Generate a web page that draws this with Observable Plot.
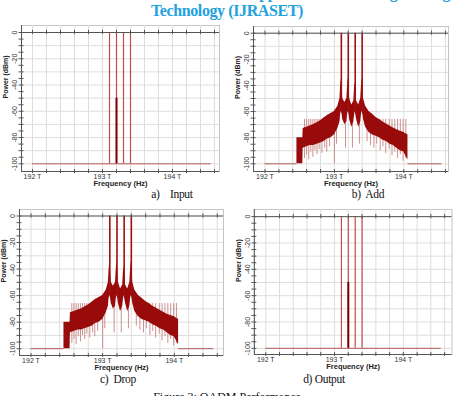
<!DOCTYPE html>
<html><head><meta charset="utf-8">
<script src="https://cdn.jsdelivr.net/npm/d3@7"></script>
<script src="https://cdn.jsdelivr.net/npm/@observablehq/plot@0.6"></script>
<style>
body{margin:0;background:#fff;}
#fig{position:relative;width:454px;height:396px;overflow:hidden;background:#fff;}
.p{position:absolute;}
.cap{position:absolute;font-family:"Liberation Serif",serif;font-size:11.5px;color:#111;white-space:nowrap;line-height:14px;transform:translate(-50%,-50%);letter-spacing:-0.3px;}
.title{position:absolute;left:0;width:454px;text-align:center;font-family:"Liberation Serif",serif;font-weight:bold;color:#22a2dc;font-size:16px;line-height:18px;white-space:nowrap;letter-spacing:-0.4px;}
.fcap{position:absolute;left:0;width:454px;text-align:center;font-family:"Liberation Serif",serif;font-size:12px;line-height:14px;color:#111;white-space:nowrap;}
</style></head><body><div id="fig"></div>
<script>
// ---- data ----
const channelFreqs = [193.1, 193.2, 193.3, 193.4];   // THz
const channelPowers = [0, 0, 0, 0];                  // dBm
const residualFreqs = [193.2];
const residualPowers = [-50];
const floorDb = -100;
const spanStart = 192, spanEnd = 194.55;
const noiseStart = 192.46, noiseEnd = 194.06;

const noiseFreqs = [192.46,192.545,192.55,192.60,192.65,192.70,192.75,192.80,192.85,192.90,192.95,193.00,193.05,193.08,193.09,193.10,193.11,193.12,193.15,193.18,193.19,193.20,193.21,193.22,193.25,193.28,193.29,193.30,193.31,193.32,193.35,193.38,193.39,193.40,193.41,193.42,193.45,193.50,193.55,193.60,193.65,193.70,193.75,193.80,193.85,193.90,193.95,194.00,194.06];
const noiseHigh  = [-80,-80,-73,-72,-71,-70,-68.5,-67,-65,-63,-61.5,-60,-56,-50,-40,-35,-40,-50,-53,-50,-40,-34,-40,-50,-55,-52,-42,-38,-42,-52,-55,-50,-40,-34,-40,-50,-56,-60,-62,-64.5,-66,-68,-69.5,-71,-72.5,-74,-75,-76,-78];
const noiseLow   = [-100,-100,-88,-87,-86,-86,-85,-84,-83,-81,-80,-78,-73,-68,-62,-60,-62,-66,-70,-68,-62,-60,-62,-66,-72,-68,-63,-60,-63,-66,-72,-68,-62,-60,-62,-66,-72,-76,-78,-79,-80,-82,-83,-85,-86,-88,-90,-91,-97];

const dipFreqs  = [192.57,192.60,192.63,192.66,192.69,192.72,192.75,192.78,192.82,192.86,192.89,192.93,193.00,193.03,193.16,193.26,193.36,193.47,193.52,193.57,193.61,193.66,193.70,193.74,193.79,193.83,193.87,193.91,193.95,193.99,194.03];
const dipPowers = [-96,-93,-97,-91,-95,-90,-93,-89,-92,-88,-91,-87,-100,-85,-88,-88,-85,-83,-86,-88,-85,-90,-87,-92,-89,-94,-91,-96,-93,-98,-96];

const freqTicks = [192, 193, 194];
const powerTicks = [0, -20, -40, -60, -80, -100];
const freqGrid = d3.range(192, 194.61, 0.2);
const powerGrid = d3.range(0, -101, -10);
const powerMinor = d3.range(0, -101, -5);

const channels = channelFreqs.map((f, i) => ({f, p: channelPowers[i]}));
const residual = residualFreqs.map((f, i) => ({f, p: residualPowers[i]}));
const noise = noiseFreqs.map((f, i) => ({f, hi: noiseHigh[i], lo: noiseLow[i]}));
const dips = dipFreqs.map((f, i) => ({f, p: dipPowers[i]}));

const fig = document.getElementById("fig");

function makePanel(g, marks) {
  const mL = 24, mR = 3, mT = 3, mB = 24;
  const kx = (g.x194 - g.x192) / 2, ky = (g.y100 - g.y0) / 100;
  const xDom = [192 - (g.x192 - g.L) / kx, 192 + (g.R - g.x192) / kx];
  const yDom = [-100 - (g.B - g.y100) / ky, (g.y0 - g.T) / ky];
  const width = g.R - g.L + mL + mR, height = g.B - g.T + mT + mB;
  const svg = Plot.plot({
    width, height, marginLeft: mL, marginRight: mR, marginTop: mT, marginBottom: mB,
    x: {domain: xDom, axis: null},
    y: {domain: yDom, axis: null},
    style: {fontFamily: "'Liberation Sans', Arial, sans-serif", background: "transparent", overflow: "visible"},
    marks: [
      Plot.frame({stroke: "#c4c4c4"}),
      Plot.gridX(freqGrid, {stroke: "#dedede", strokeOpacity: 1}),
      Plot.gridY(powerGrid, {stroke: "#dedede", strokeOpacity: 1}),
      ...marks,
      Plot.ruleY([0], {stroke: "#555", strokeWidth: 1}),
      Plot.ruleX(freqGrid, {y1: 1.6, y2: -1.6, stroke: "#555"}),
      Plot.ruleX([xDom[0]], {stroke: "#555"}),
      Plot.ruleY([yDom[0]], {stroke: "#555"}),
      Plot.axisY(powerMinor, {tickSize: 5, dx: 2.5, tickFormat: () => "", stroke: "#555", label: null}),
      Plot.axisX(freqGrid, {tickSize: 4, dy: -2, tickFormat: () => "", stroke: "#555", label: null}),
      Plot.text(powerTicks, {y: d => d, frameAnchor: "left", dx: -6.5, rotate: -90, text: d => String(d), fontSize: 7, fill: "#333", textAnchor: "middle"}),
      Plot.text(freqTicks, {x: d => d, frameAnchor: "bottom", dy: 5.5, text: d => d + " T", fontSize: 7, fill: "#333", lineAnchor: "middle"}),
      Plot.text(["Frequency (Hz)"], {frameAnchor: "bottom", dy: 12, text: d => d, fontWeight: "bold", fontSize: 7.5, fill: "#222", lineAnchor: "middle"}),
      Plot.text(["Power (dBm)"], {frameAnchor: "left", dx: -15.5, rotate: -90, text: d => d, fontWeight: "bold", fontSize: 7, fill: "#222"})
    ]
  });
  const div = document.createElement("div");
  div.className = "p";
  div.style.left = (g.L - mL) + "px";
  div.style.top = (g.T - mT) + "px";
  div.appendChild(svg);
  fig.appendChild(div);
}

function lineMarks() {
  return [
    Plot.ruleY([floorDb], {x1: spanStart, x2: spanEnd, stroke: "#b65a5a", strokeWidth: 1}),
    Plot.ruleX(channels, {x: "f", y1: floorDb, y2: "p", stroke: "#c24a4a", strokeWidth: 1.2}),
    Plot.ruleX(residual, {x: "f", y1: floorDb, y2: "p", stroke: "#7d0000", strokeWidth: 2})
  ];
}
function noiseMarks() {
  return [
    Plot.ruleY([floorDb], {x1: spanStart, x2: noiseStart, stroke: "#b65a5a", strokeWidth: 1}),
    Plot.ruleY([floorDb], {x1: noiseEnd, x2: spanEnd, stroke: "#b65a5a", strokeWidth: 1}),
    Plot.ruleX(dips, {x: "f", y1: -66, y2: "p", stroke: "#c98282", strokeWidth: 0.9}),
    Plot.areaY(noise, {x: "f", y1: "lo", y2: "hi", fill: "#990b0b"}),
    Plot.ruleX(channels, {x: "f", y1: -60, y2: "p", stroke: "#a00f0f", strokeWidth: 1.6})
  ];
}

makePanel({L: 21, R: 219, T: 25, B: 171, x192: 32, x194: 172, y0: 32, y100: 163.3}, lineMarks());
makePanel({L: 253, R: 448, T: 26, B: 171, x192: 264.5, x194: 403.3, y0: 32.7, y100: 163.3}, noiseMarks());
makePanel({L: 18.5, R: 222.5, T: 208.5, B: 354.5, x192: 30, x194: 173.3, y0: 215, y100: 347.7}, noiseMarks());
makePanel({L: 253.5, R: 452.5, T: 208.5, B: 354.5, x192: 265, x194: 403.5, y0: 215.7, y100: 348.3}, lineMarks());

function addDiv(cls, html, style) {
  const d = document.createElement("div");
  d.className = cls; d.innerHTML = html;
  Object.assign(d.style, style);
  fig.appendChild(d);
}
addDiv("title", "International Journal for Research in Applied Science &amp; Engineering", {top: "-16px"});
addDiv("title", "Technology (IJRASET)", {top: "2px"});
addDiv("cap", "a)&nbsp;&nbsp;&nbsp; Input", {left: "172px", top: "194px"});
addDiv("cap", "b)&nbsp; Add", {left: "368px", top: "194px"});
addDiv("cap", "c)&nbsp; Drop", {left: "118px", top: "379px"});
addDiv("cap", "d) Output", {left: "324px", top: "379px"});
addDiv("fcap", "Figure 3: OADM Performance", {top: "390px"});
</script></body></html>
